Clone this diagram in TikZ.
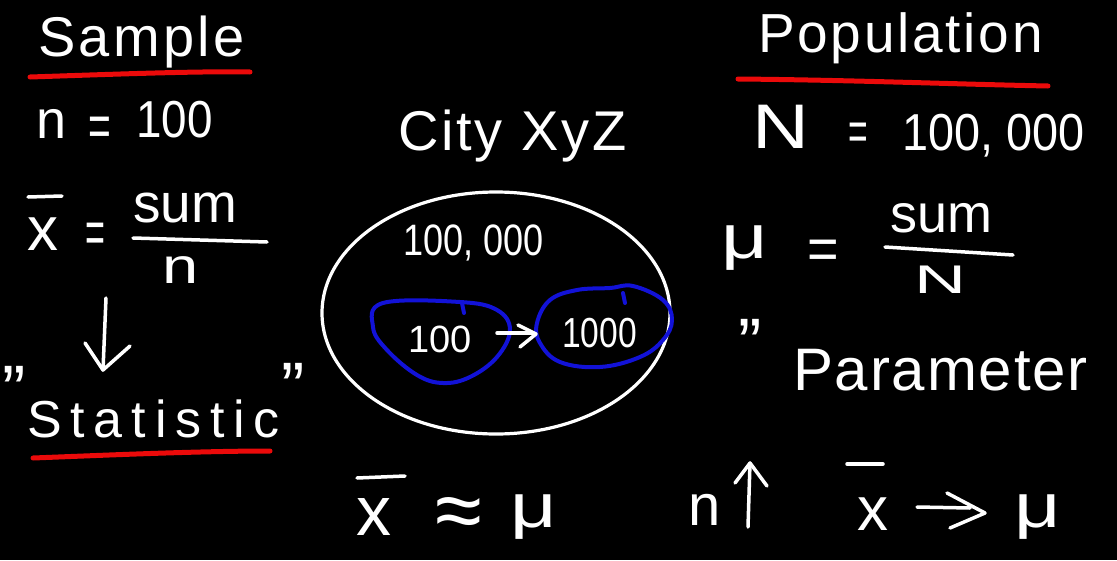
\documentclass[tikz,border=0pt]{standalone}
\usepackage{fontspec}
\setmainfont{Liberation Sans}
\usepackage{graphicx}
\usetikzlibrary{shapes.geometric}
\definecolor{penred}{RGB}{235,10,10}
\definecolor{penblue}{RGB}{18,18,215}
\newcommand{\hfs}[1]{\fontsize{#1pt}{#1pt}\selectfont}
\begin{document}
\begin{tikzpicture}[x=1pt,y=-1pt,
  pen/.style={white,line width=3.5pt,line cap=round,line join=round},
  redpen/.style={penred,line width=5pt,line cap=round},
  bluepen/.style={penblue,line width=4pt,line cap=round,line join=round},
  txt/.style={text=white,inner sep=0pt,anchor=base west}]
\fill[black] (0,0) rectangle (1117,560);
\useasboundingbox (0,0) rectangle (1117,560);

% ---------- Sample (left) ----------
\node[txt,font=\hfs{56}\addfontfeature{LetterSpace=6}] (sample) at (38,56) {Sample};
\draw[redpen] (30,77) .. controls (120,74) and (200,71) .. (250,72);
\node[txt,font=\hfs{54}] (nl) at (36,138) {n};
\node[txt,font=\hfs{60}] (eql) at (88,146) {\scalebox{0.65}[1]{=}};
\node[txt,font=\hfs{52}] (hundl) at (136,137) {\scalebox{0.88}[1]{100}};

\node[txt,font=\hfs{62}] (xl) at (27,250) {x};
\draw[pen] (28,197) -- (62,196);
\node[txt,font=\hfs{62}] (eqx) at (85,253) {\scalebox{0.55}[1]{=}};
\node[txt,font=\hfs{55}] (suml) at (133,222) {sum};
\draw[pen] (133,238) -- (267,242);
\node[txt,font=\hfs{50}] (denl) at (162,283) {\scalebox{1.3}[1]{n}};

\coordinate (d1) at (106,298);
\coordinate (d2) at (103,370);
\draw[pen] (d1) -- (d2);
\draw[pen] (85,343) -- (d2) -- (130,346);

\node[txt,font=\hfs{70}] (ql) at (2,414) {"};
\node[txt,font=\hfs{70}] (qr) at (281,411) {"};
\node[txt,font=\hfs{52}\addfontfeature{LetterSpace=17}] (stat) at (27,437) {Statistic};
\draw[redpen] (33,458) .. controls (110,455) and (200,451) .. (270,451);

% ---------- City (centre) ----------
\node[txt,font=\hfs{56}\addfontfeature{LetterSpace=5}] (city) at (398,150) {City XyZ};
\node[draw=white,line width=3.2pt,ellipse,minimum width=348pt,minimum height=242pt,inner sep=0pt] (pop) at (496,313) {};
\node[txt,font=\hfs{44}] (popn) at (403,255) {\scalebox{0.82}[1]{100, 000}};

\draw[bluepen] plot[smooth cycle,tension=0.65] coordinates {(383,303) (460,302) (497,310) (510,330) (497,357) (470,377) (443,383) (417,375) (387,350) (373,327)};
\draw[bluepen] (462,303) -- (464,313);
\draw[bluepen] plot[smooth cycle,tension=0.65] coordinates {(633,286) (663,300) (672,320) (663,340) (640,357) (600,367) (560,362) (540,343) (537,323) (550,300) (577,290) (610,288)};
\draw[bluepen] (623,293) -- (625,303);
\node[txt,font=\hfs{38}] (s100) at (408,352) {100};
\node[txt,font=\hfs{42}] (s1000) at (562,347) {\scalebox{0.8}[1]{1000}};
\coordinate (a1) at (497,333);
\coordinate (a2) at (536,334);
\draw[pen] (a1) -- (533,333);
\draw[pen] (518,325) -- (a2) -- (520,347);

% ---------- Population (right) ----------
\node[txt,font=\hfs{55}\addfontfeature{LetterSpace=5}] (popu) at (758,52) {Population};
\draw[redpen] (738,79) .. controls (850,80) and (950,84) .. (1048,86);
\node[txt,font=\hfs{63}] (bigN) at (752,148) {\scalebox{1.25}[1]{N}};
\node[txt,font=\hfs{56}] (eqN) at (848,150) {\scalebox{0.6}[1]{=}};
\node[txt,font=\hfs{52}] (popr) at (902,150) {\scalebox{0.9}[1]{100, 000}};

\node[txt,font=\hfs{62}] (mur) at (721,258) {\scalebox{1.3}[1]{μ}};
\node[txt,font=\hfs{60}] (eqmu) at (807,269) {\scalebox{0.9}[1]{=}};
\node[txt,font=\hfs{54}] (sumr) at (890,232) {sum};
\draw[pen] (885,247) -- (1013,255);
\node[txt,font=\hfs{40}] (denr) at (914,293) {\scalebox{1.8}[1]{N}};

\node[txt,font=\hfs{70}] (qp) at (738,367) {"};
\node[txt,font=\hfs{60}\addfontfeature{LetterSpace=3}] (param) at (793,390) {Parameter};

% ---------- bottom line ----------
\draw[pen] (357,478) -- (405,476);
\node[txt,font=\hfs{70}] (xb1) at (356,535) {x};
\node[txt,font=\hfs{85}] (approx) at (435,539) {≈};
\node[txt,font=\hfs{62}] (mub1) at (510,527) {\scalebox{1.3}[1]{μ}};

\node[txt,font=\hfs{58}] (nb) at (688,525) {n};
\coordinate (u1) at (748,527);
\coordinate (u2) at (750,463);
\draw[pen] (u1) -- (u2);
\draw[pen] (735,483) -- (u2) -- (767,486);

\draw[pen] (847,464) -- (883,464);
\node[txt,font=\hfs{62}] (xb2) at (857,530) {x};
\coordinate (r1) at (917,507);
\coordinate (r2) at (985,513);
\draw[pen] (r1) -- (970,508);
\draw[pen] (947,493) -- (r2) -- (950,528);
\node[txt,font=\hfs{62}] (mub2) at (1014,527) {\scalebox{1.3}[1]{μ}};
\end{tikzpicture}
\end{document}
